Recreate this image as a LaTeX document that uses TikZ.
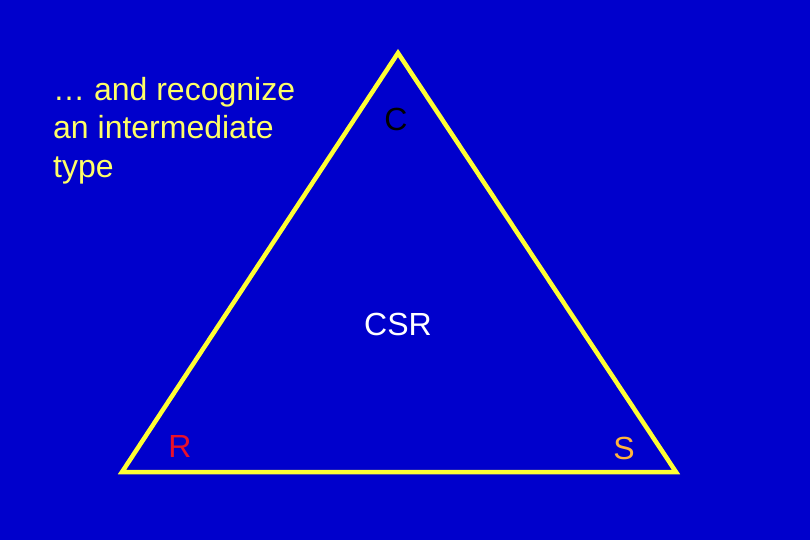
\documentclass[tikz,border=0pt]{standalone}
\usepackage{fontspec}
\setmainfont{Liberation Sans}
\definecolor{bgblue}{HTML}{0000CC}
\definecolor{triyellow}{HTML}{FFFF33}
\definecolor{txtyellow}{HTML}{FFFF66}
\definecolor{sorange}{HTML}{FFB43C}
\definecolor{rred}{HTML}{E8102A}
\begin{document}
\begin{tikzpicture}[x=1pt,y=-1pt,
  lbl/.style={inner sep=0pt,anchor=base,font=\fontsize{32}{38}\selectfont},
  side/.style={triyellow,line width=4.5pt,line join=miter}]
\fill[bgblue] (0,0) rectangle (810,540);
\useasboundingbox (0,0) rectangle (810,540);
\coordinate (top) at (398,53);
\coordinate (bl) at (122,472);
\coordinate (br) at (676,472);
\draw[side] (top) -- (br) -- (bl) -- cycle;
\node[lbl,anchor=base west,text=txtyellow] (t1) at (53,101) {… and recognize};
\node[lbl,anchor=base west,text=txtyellow] (t2) at (53,139) {an intermediate};
\node[lbl,anchor=base west,text=txtyellow] (t3) at (53,177) {type};
\node[lbl,text=black] (c) at (396,131) {C};
\node[lbl,text=white] (csr) at (398,335) {CSR};
\node[lbl,text=rred] (r) at (180,457) {R};
\node[lbl,text=sorange] (s) at (624,459) {S};
\end{tikzpicture}
\end{document}
